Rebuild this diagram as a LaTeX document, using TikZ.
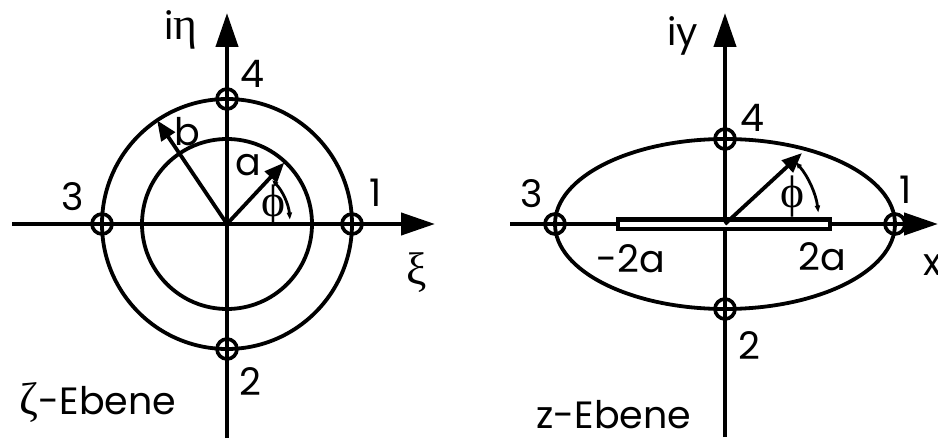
\documentclass[tikz,border=0pt]{standalone}
\usepackage{fontspec}
\setmainfont{Poppins}
\newfontfamily\grk[Scale=1.2]{Liberation Serif}
\usetikzlibrary{arrows.meta}

\begin{document}
\begin{tikzpicture}[
  x=0.5pt, y=0.5pt,
  font=\fontsize{19}{22}\selectfont,
  axis/.style={line width=2.1pt, -{Triangle[length=17pt,width=11pt]}},
  curve/.style={line width=1.9pt},
  vec/.style={line width=1.9pt, -{Triangle[length=10pt,width=8pt]}},
  angarc/.style={line width=1.4pt,
                 {Triangle[length=3pt,width=2.5pt]}-{Triangle[length=3.5pt,width=2.5pt]}},
  pt/.style={circle, draw, line width=1.8pt, minimum size=10pt, inner sep=0pt},
  slit/.style={draw, fill=white, line width=2pt},
  lab/.style={inner sep=0pt},
]
\useasboundingbox (0,0) rectangle (938,440);
% --- zeta-Ebene ---
\begin{scope}[shift={(227,216)}]
  \coordinate (zO) at (0,0);
  \coordinate (zW) at (-215,0);
  \coordinate (zE) at (208,0);
  \coordinate (zS) at (0,-214);
  \coordinate (zN) at (0,211);
  \draw[curve] (zO) circle[radius=125];
  \draw[curve] (zO) circle[radius=85];
  \draw[axis] (zW) -- (zE);
  \draw[axis] (zS) -- (zN);
  \node[pt] (z1) at (125,0) {};
  \node[pt] (z2) at (0,-125) {};
  \node[pt] (z3) at (-125,0) {};
  \node[pt] (z4) at (0,125) {};
  \coordinate (zb) at (124:125);
  \coordinate (za) at (47:84);
  \draw[vec] (zO) -- (zb);
  \draw[vec] (zO) -- (za);
  \draw[angarc] (44:63) arc[start angle=44, end angle=4, radius=63];
  % labels
  \node[lab] (zlabN) at (-46,194) {i{\grk η}};
  \node[lab] (zlabE) at (190,-49) {\grk ξ};
  \node[lab] (zlab1) at (149,31) {1};
  \node[lab] (zlab2) at (23,-158) {2};
  \node[lab] (zlab3) at (-154,27) {3};
  \node[lab] (zlab4) at (25,150) {4};
  \node[lab] (zlabb) at (-40,92) {b};
  \node[lab] (zlaba) at (21,59) {a};
  \node[lab] (zphi) at (46,18) {\grk ϕ};
  \node[lab] (ztitle) at (-129,-179) {{\grk ζ}-Ebene};
\end{scope}
% --- z-Ebene ---
\begin{scope}[shift={(725,216)}]
  \coordinate (wO) at (0,0);
  \coordinate (wW) at (-215,0);
  \coordinate (wE) at (213,0);
  \coordinate (wS) at (0,-213);
  \coordinate (wN) at (0,211);
  \draw[curve] (wO) ellipse[x radius=170, y radius=85];
  \draw[axis] (wW) -- (wE);
  \draw[axis] (wS) -- (wN);
  \draw[slit] (-107,-4.5) rectangle (105,4.5);
  \node[pt] (w1) at (170,0) {};
  \node[pt] (w2) at (0,-85) {};
  \node[pt] (w3) at (-170,0) {};
  \node[pt] (w4) at (0,85) {};
  \coordinate (wr) at (77,71);
  \draw[vec] (wO) -- (wr);
  \draw[angarc] (41:94) arc[start angle=41, end angle=7, radius=94];
  % labels
  \node[lab] (wlabN) at (-42,188) {iy};
  \node[lab, anchor=west] (wlabE) at (198,-41) {x};
  \node[lab] (wlab1) at (181,34) {1};
  \node[lab] (wlab2) at (24,-122) {2};
  \node[lab] (wlab3) at (-193,30) {3};
  \node[lab] (wlab4) at (27,106) {4};
  \node[lab] (wlabm) at (-94,-35) {-2a};
  \node[lab] (wlabp) at (97,-33) {2a};
  \node[lab] (wphi) at (67,27) {\grk ϕ};
  \node[lab] (wtitle) at (-111,-191) {z-Ebene};
\end{scope}
\end{tikzpicture}
\end{document}
